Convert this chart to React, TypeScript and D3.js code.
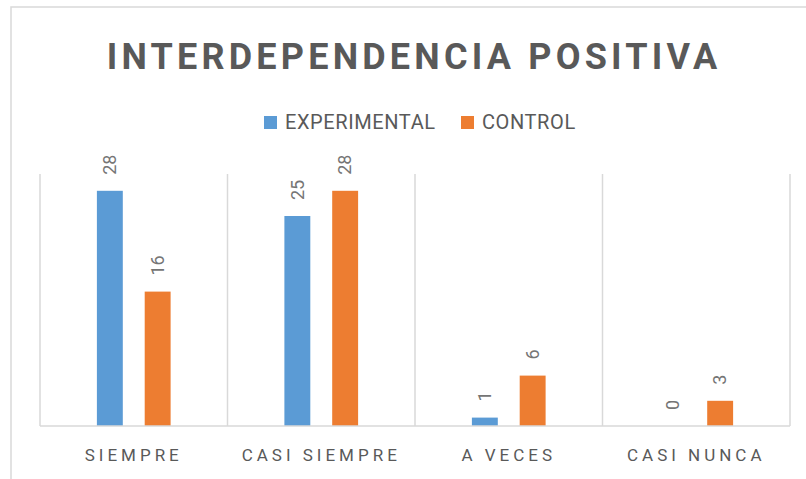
import * as d3 from 'd3';

const categories = ['SIEMPRE', 'CASI SIEMPRE', 'A VECES', 'CASI NUNCA'];
const seriesNames = ['EXPERIMENTAL', 'CONTROL'];
const experimental = [28, 25, 1, 0];
const control = [16, 28, 6, 3];
const colors = ['#5B9BD5', '#ED7D31'];
const title = 'INTERDEPENDENCIA POSITIVA';

const W = 806;
const H = 479;
const margin = { top: 174, right: 16, bottom: 53, left: 40 };
const font = 'Roboto, "Liberation Sans", sans-serif';
const textColor = '#595959';

export default function App() {
  const x = d3
    .scaleBand()
    .domain(categories)
    .range([margin.left, W - margin.right])
    .paddingInner(0)
    .paddingOuter(0);

  // two bars per category, narrow with wide gaps
  const xs = d3
    .scaleBand()
    .domain(seriesNames)
    .range([0, x.bandwidth()])
    .paddingInner(0.458)
    .paddingOuter(1.19);

  const y = d3
    .scaleLinear()
    .domain([0, 30])
    .range([H - margin.bottom, margin.top]);

  const series = [experimental, control];
  const base = y(0);

  return (
    <svg
      width={W}
      height={H}
      style={{ position: 'absolute', left: 0, top: 0, background: '#fff' }}
    >
      {/* chart frame */}
      <rect x={11} y={7} width={W} height={H} fill='#fff' stroke='#D9D9D9' strokeWidth={1.5} />

      <text
        x={414}
        y={69}
        textAnchor='middle'
        fontFamily={font}
        fontWeight='bold'
        fontSize={36}
        letterSpacing={4.2}
        fill={textColor}
      >
        {title}
      </text>

      {/* legend */}
      {seriesNames.map((s, i) => {
        const lx = i === 0 ? 264 : 461;
        return (
          <g key={s}>
            <rect x={lx} y={116} width={13} height={13} fill={colors[i]} />
            <text
              x={lx + 21}
              y={129}
              fontFamily={font}
              fontSize={20}
              letterSpacing={0.6}
              fill={textColor}
            >
              {s}
            </text>
          </g>
        );
      })}

      {/* vertical gridlines between categories */}
      {d3.range(categories.length + 1).map((i) => {
        const gx = margin.left + i * x.step();
        return (
          <line key={i} x1={gx} x2={gx} y1={margin.top} y2={base} stroke='#D9D9D9' strokeWidth={1.5} />
        );
      })}

      {/* bars and labels */}
      {categories.map((c) => (
        <g key={c} transform={`translate(${x(c)},0)`}>
          {seriesNames.map((s, si) => {
            const v = series[si][categories.indexOf(c)];
            const bx = xs(s) as number;
            const cx = bx + xs.bandwidth() / 2;
            return (
              <g key={s}>
                {v > 0 && (
                  <rect x={bx} y={y(v)} width={xs.bandwidth()} height={base - y(v)} fill={colors[si]} />
                )}
                <text
                  transform={`translate(${cx},${y(v) - 16}) rotate(-90)`}
                  dy='0.35em'
                  fontFamily={font}
                  fontSize={18}
                  fill='#757575'
                >
                  {v}
                </text>
              </g>
            );
          })}
        </g>
      ))}

      {/* baseline */}
      <line x1={margin.left} x2={W - margin.right} y1={base} y2={base} stroke='#D9D9D9' strokeWidth={1.5} />

      {/* category labels */}
      {categories.map((c) => (
        <text
          key={c}
          x={(x(c) as number) + x.bandwidth() / 2}
          y={461}
          textAnchor='middle'
          fontFamily={font}
          fontSize={17}
          letterSpacing={4}
          fill={textColor}
        >
          {c}
        </text>
      ))}
    </svg>
  );
}
